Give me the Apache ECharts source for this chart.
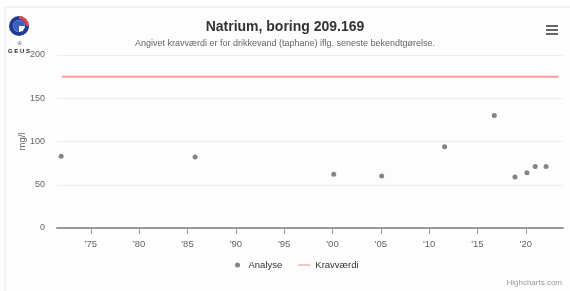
<!DOCTYPE html>
<html>
<head>
<meta charset="utf-8">
<script src="https://cdn.jsdelivr.net/npm/echarts@6/dist/echarts.min.js"></script>
<style>
  html, body { margin: 0; padding: 0; background: #ffffff; }
  #chart { width: 570px; height: 291px; }
</style>
</head>
<body>
<div id="chart"></div>
<script>
// analyser (år som decimaltal, mg/l)
var analyseYears = [1971.93, 1985.79, 2000.13, 2005.09, 2011.6, 2016.74, 2018.88, 2020.12, 2020.98, 2022.1];
var analyseValues = [83, 82, 62, 60, 94, 130, 59, 64, 71, 71];

// kravværdi
var kravYears = [1972.0, 2023.4];
var kravValues = [175, 175];

// akse-ticks
var tickYears = [1975, 1980, 1985, 1990, 1995, 2000, 2005, 2010, 2015, 2020];

var chart = echarts.init(document.getElementById('chart'));

var analyseData = [];
for (var i = 0; i < analyseYears.length; i++) {
    analyseData.push([analyseYears[i], analyseValues[i]]);
}
var kravData = [];
for (var j = 0; j < kravYears.length; j++) {
    kravData.push([kravYears[j], kravValues[j]]);
}

var font = 'Liberation Sans, Arial, sans-serif';

var option = {
    backgroundColor: '#fdfdfd',
    textStyle: { fontFamily: font },
    animation: false,
    title: {
        text: 'Natrium, boring 209.169',
        subtext: 'Angivet kravværdi er for drikkevand (taphane) iflg. seneste bekendtgørelse.',
        left: 'center',
        top: 15,
        itemGap: 5,
        textStyle: { fontSize: 14, fontWeight: 'bold', color: '#333333', fontFamily: font },
        subtextStyle: { fontSize: 9, color: '#666666', fontFamily: font }
    },
    legend: {
        bottom: 16,
        left: 230,
        itemGap: 16,
        symbolKeepAspect: true,
        textStyle: { fontSize: 9.5, color: '#333333', fontFamily: font },
        data: [
            { name: 'Analyse', icon: 'circle', itemStyle: { color: '#666666' } },
            { name: 'Kravværdi', icon: 'path://M0,0 L16,0 L16,1.6 L0,1.6 Z', itemStyle: { color: '#f4a0a0' } }
        ],
        itemWidth: 12,
        itemHeight: 5
    },
    grid: { left: 57, right: 7, top: 55, bottom: 63 },
    xAxis: {
        type: 'value',
        min: 1971.5,
        max: 2023.85,
        splitLine: { show: false },
        axisLine: { lineStyle: { color: '#999999', width: 2 } },
        axisTick: { customValues: tickYears, length: 6, lineStyle: { color: '#999999' } },
        axisLabel: {
            customValues: tickYears,
            color: '#666666',
            fontSize: 9.5,
            margin: 11,
            formatter: function (v) { return "'" + String(Math.round(v)).slice(2); }
        }
    },
    yAxis: {
        type: 'value',
        min: 0,
        max: 200,
        interval: 50,
        name: 'mg/l',
        nameLocation: 'middle',
        nameRotate: 90,
        nameGap: 30,
        nameMoveOverlap: false,
        nameTextStyle: { color: '#666666', fontSize: 9.5 },
        axisLine: { show: false },
        axisTick: { show: false },
        axisLabel: { color: '#666666', fontSize: 9, margin: 12 },
        splitLine: { lineStyle: { color: '#eeeeee' } }
    },
    series: [
        {
            name: 'Analyse',
            type: 'scatter',
            data: analyseData,
            symbolSize: 5,
            itemStyle: { color: '#666666' }
        },
        {
            name: 'Kravværdi',
            type: 'line',
            data: kravData,
            showSymbol: false,
            symbol: 'none',
            lineStyle: { color: '#f4a0a0', width: 2 },
            itemStyle: { color: '#f4a0a0' }
        }
    ],
    graphic: [
        // ramme
        { type: 'rect', shape: { x: 5, y: 7, width: 570, height: 300 }, style: { fill: 'none', stroke: '#e6e6e6', lineWidth: 1 }, silent: true },
        // GEUS logo
        { type: 'circle', shape: { cx: 19, cy: 26, r: 10 }, style: { fill: '#1f3a93' } },
        { type: 'sector', shape: { cx: 19, cy: 26, r: 6, r0: 0, startAngle: -Math.PI / 2, endAngle: Math.PI * 1.5 }, style: { fill: '#ffffff' } },
        { type: 'sector', shape: { cx: 19, cy: 26, r: 6, r0: 0, startAngle: Math.PI / 2, endAngle: Math.PI * 2 }, style: { fill: '#3b5fc0' } },
        { type: 'sector', shape: { cx: 19, cy: 26, r: 10, r0: 7, startAngle: -Math.PI / 2, endAngle: 0 }, style: { fill: '#e04a4a' } },
        { type: 'text', left: 17, top: 40, style: { text: '♔', fontSize: 6, fill: '#666666' } },
        { type: 'text', left: 8, top: 48, style: { text: 'G E U S', fontSize: 6, fontWeight: 'bold', fill: '#222222', fontFamily: font } },
        // menu-ikon
        { type: 'rect', shape: { x: 546, y: 25, width: 12, height: 2 }, style: { fill: '#666666' } },
        { type: 'rect', shape: { x: 546, y: 29, width: 12, height: 2 }, style: { fill: '#666666' } },
        { type: 'rect', shape: { x: 546, y: 33, width: 12, height: 2 }, style: { fill: '#666666' } },
        // credits
        { type: 'text', right: 8, bottom: 4, style: { text: 'Highcharts.com', fontSize: 8, fill: '#999999', fontFamily: font } }
    ]
};

chart.setOption(option);
</script>
</body>
</html>
